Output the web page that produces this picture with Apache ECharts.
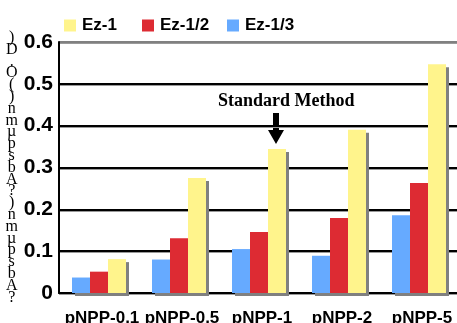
<!DOCTYPE html>
<html>
<head>
<meta charset="utf-8">
<script src="https://cdn.jsdelivr.net/npm/echarts@6/dist/echarts.min.js"></script>
<style>
html,body{margin:0;padding:0;background:#fff;}
#c{width:457px;height:323px;}
</style>
</head>
<body>
<div id="c"></div>
<script>
var categories = ['pNPP-0.1', 'pNPP-0.5', 'pNPP-1', 'pNPP-2', 'pNPP-5'];
var ez1 = [0.081, 0.275, 0.344, 0.390, 0.547];
var ez12 = [0.051, 0.131, 0.146, 0.179, 0.263];
var ez13 = [0.037, 0.080, 0.105, 0.089, 0.186];
var yTicks = [0, 0.1, 0.2, 0.3, 0.4, 0.5, 0.6];
var yAxisNameChars = [')', 'D', '.', 'O', '(', ')', 'n', 'm', 'µ', 'p', 's', 'b', 'A', '?', ')', 'n', 'm', 'µ', 'p', 's', 'b', 'A', '?'];
var annotationText = 'Standard Method';

var SANS = 'Liberation Sans, Arial, sans-serif';
var SERIF = 'Liberation Serif, Times New Roman, serif';

var chart = echarts.init(document.getElementById('c'), null, {renderer: 'canvas'});

function legendFor(name, left) {
  return {
    data: [name], left: left, top: 17, padding: 0, orient: 'horizontal',
    itemWidth: 12, itemHeight: 12, icon: 'rect', selectedMode: false,
    textStyle: {fontFamily: SANS, fontWeight: 'bold', fontSize: 17, color: '#000', lineHeight: 12, padding: [0,0,0,1]}
  };
}

var barShadow = {shadowColor: '#808080', shadowOffsetX: 3, shadowOffsetY: 3, shadowBlur: 0};

chart.setOption({
  animation: false,
  backgroundColor: '#fff',
  legend: [legendFor('Ez-1', 64), legendFor('Ez-1/2', 142), legendFor('Ez-1/3', 227)],
  grid: {left: 59, top: 42, width: 400, height: 251, containLabel: false, outerBoundsMode: 'none'},
  xAxis: {
    type: 'category', data: categories,
    axisLine: {lineStyle: {color: '#000', width: 2}},
    axisTick: {inside: true, length: 4, lineStyle: {color: '#000', width: 2}},
    axisLabel: {fontFamily: SANS, fontWeight: 'bold', fontSize: 17, color: '#000', margin: 17, padding: [0,0,0,6], interval: 0}
  },
  yAxis: {
    type: 'value', min: yTicks[0], max: yTicks[yTicks.length - 1], interval: 0.1,
    name: yAxisNameChars.join('\n'), nameLocation: 'middle', nameRotate: 0, nameGap: 46,
    nameTextStyle: {fontFamily: SERIF, fontSize: 16, color: '#000', lineHeight: 11.8, align: 'center', verticalAlign: 'middle'},
    axisLine: {show: true, lineStyle: {color: '#000', width: 2}},
    axisTick: {show: false},
    axisLabel: {fontFamily: SANS, fontWeight: 'bold', fontSize: 21, color: '#000', margin: 6, padding: [8,0,0,0],
      formatter: function (v) { return v === 0 ? '0' : v.toFixed(1); }},
    splitLine: {show: true, lineStyle: {color: ['#000','#000','#000','#000','#000','#000','#808080'], width: 2,
      shadowColor: '#999', shadowOffsetY: 1, shadowBlur: 0}}
  },
  series: [
    {name: 'Ez-1/3', type: 'bar', data: ez13, barWidth: 18, barGap: '0%', itemStyle: Object.assign({color: '#66AAFF'}, barShadow)},
    {name: 'Ez-1/2', type: 'bar', data: ez12, barWidth: 18, barGap: '0%', itemStyle: Object.assign({color: '#DD2B33'}, barShadow)},
    {name: 'Ez-1', type: 'bar', data: ez1, barWidth: 18, barGap: '0%', itemStyle: Object.assign({color: '#FFF48C'}, barShadow)}
  ],
  graphic: [
    {type: 'text', left: 218, top: 92, style: {text: annotationText, font: 'bold 18px ' + SERIF, fill: '#000'}},
    {type: 'polygon', shape: {points: [[273,113],[279,113],[279,130],[284,130],[276,144],[268,130],[273,130]]}, style: {fill: '#000'}}
  ]
});
</script>
</body>
</html>
